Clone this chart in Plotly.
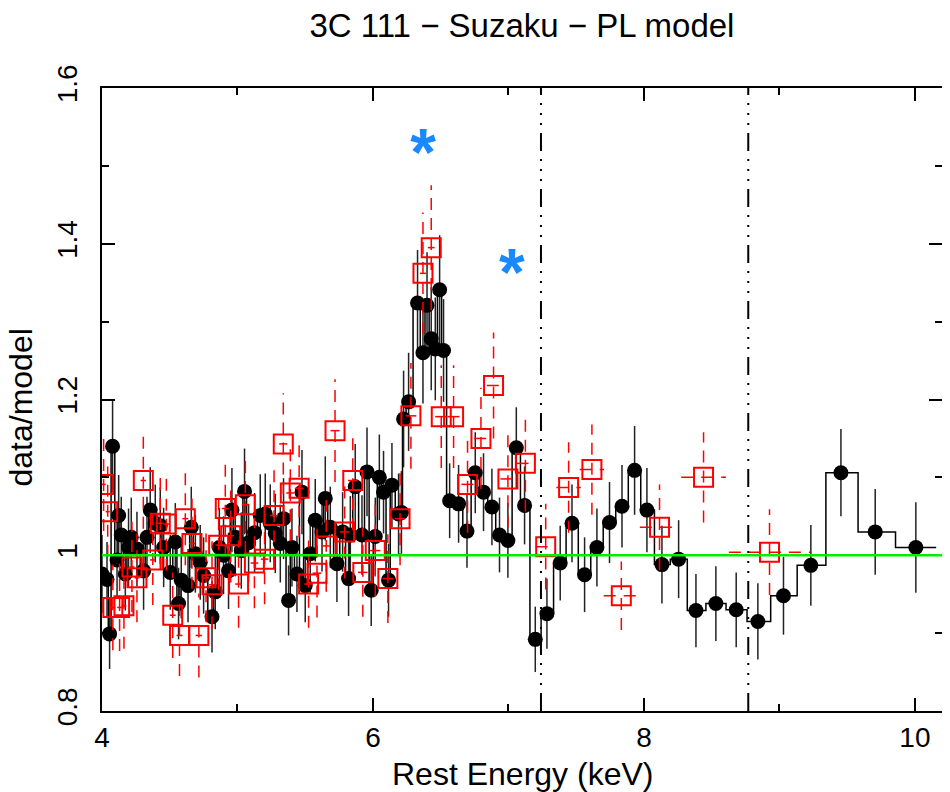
import plotly.graph_objects as go

# XIS (black) ratio points: energy, data/model, 1-sigma error
black_e = [4.000, 4.037, 4.056, 4.078, 4.111, 4.123, 4.142, 4.172, 4.196, 4.216,
           4.258, 4.307, 4.332, 4.356, 4.393, 4.430, 4.455, 4.504, 4.541, 4.565,
           4.585, 4.635, 4.659, 4.689, 4.725, 4.750, 4.812, 4.836, 4.866, 4.897,
           4.934, 4.959, 4.984, 5.028, 5.052, 5.082, 5.126, 5.168, 5.205, 5.242,
           5.279, 5.316, 5.340, 5.377, 5.402, 5.439, 5.476, 5.500, 5.537, 5.574,
           5.624, 5.648, 5.685, 5.734, 5.776, 5.820, 5.833, 5.869, 5.919, 5.956,
           5.987, 6.017, 6.047, 6.078, 6.115, 6.140, 6.189, 6.210, 6.226, 6.263,
           6.329, 6.369, 6.399, 6.430, 6.460, 6.492, 6.521, 6.566, 6.632, 6.694,
           6.755, 6.816, 6.878, 6.934, 6.996, 7.058, 7.119, 7.198, 7.284, 7.382,
           7.469, 7.562, 7.653, 7.746, 7.838, 7.931, 8.022, 8.133, 8.256, 8.384,
           8.531, 8.681, 8.841, 9.030, 9.232, 9.454, 9.707, 10.007]
black_r = [0.976, 0.969, 0.899, 1.140, 0.994, 1.051, 1.026, 0.976, 1.010, 1.023,
           1.008, 0.980, 1.023, 1.058, 1.041, 1.038, 1.010, 0.978, 1.017, 0.938,
           0.968, 0.961, 1.036, 1.002, 0.991, 0.974, 0.921, 0.953, 1.010, 1.000,
           0.980, 1.058, 1.023, 1.006, 1.082, 1.016, 1.029, 1.051, 1.053, 1.041,
           1.028, 1.015, 1.047, 0.942, 1.010, 0.976, 1.081, 0.961, 1.002, 1.045,
           1.030, 1.073, 1.036, 0.989, 1.030, 0.970, 1.026, 1.088, 1.026, 1.107,
           0.955, 1.024, 1.100, 1.081, 0.968, 1.090, 1.053, 1.055, 1.175, 1.197,
           1.324, 1.260, 1.321, 1.278, 1.265, 1.341, 1.263, 1.070, 1.066, 1.031,
           1.106, 1.081, 1.062, 1.026, 1.019, 1.138, 1.064, 0.892, 0.925, 0.990,
           1.041, 0.975, 1.010, 1.042, 1.063, 1.109, 1.058, 0.988, 0.995, 0.929,
           0.938, 0.930, 0.915, 0.948, 0.987, 1.106, 1.030, 1.010]
black_err = [0.050, 0.048, 0.045, 0.058, 0.050, 0.052, 0.049, 0.047, 0.050, 0.051,
             0.048, 0.050, 0.052, 0.055, 0.050, 0.049, 0.051, 0.048, 0.050, 0.046,
             0.049, 0.047, 0.052, 0.050, 0.048, 0.049, 0.046, 0.048, 0.051, 0.050,
             0.049, 0.054, 0.050, 0.049, 0.055, 0.050, 0.051, 0.053, 0.052, 0.050,
             0.051, 0.050, 0.052, 0.045, 0.050, 0.049, 0.054, 0.047, 0.050, 0.053,
             0.051, 0.054, 0.052, 0.049, 0.051, 0.048, 0.050, 0.055, 0.051, 0.057,
             0.046, 0.050, 0.055, 0.053, 0.047, 0.054, 0.052, 0.053, 0.062, 0.063,
             0.068, 0.065, 0.068, 0.066, 0.066, 0.070, 0.066, 0.048, 0.050, 0.047,
             0.052, 0.050, 0.049, 0.048, 0.048, 0.052, 0.050, 0.042, 0.045, 0.048,
             0.050, 0.048, 0.050, 0.052, 0.053, 0.057, 0.054, 0.050, 0.050, 0.047,
             0.048, 0.048, 0.049, 0.050, 0.052, 0.056, 0.055, 0.058]

# second detector (red) ratio points
red_e = [4.012, 4.042, 4.080, 4.130, 4.162, 4.221, 4.258, 4.305, 4.375, 4.430,
         4.475, 4.522, 4.572, 4.615, 4.664, 4.715, 4.768, 4.812, 4.861, 4.910,
         4.950, 5.008, 5.058, 5.125, 5.200, 5.270, 5.338, 5.390, 5.455, 5.525,
         5.587, 5.655, 5.720, 5.791, 5.851, 5.925, 6.017, 6.110, 6.200, 6.280,
         6.369, 6.430, 6.504, 6.595, 6.698, 6.797, 6.890, 6.996, 7.125, 7.275,
         7.444, 7.616, 7.833, 8.115, 8.440, 8.927]
red_r = [1.091, 1.056, 0.933, 0.933, 0.935, 0.985, 0.971, 1.096, 0.994, 1.041,
         1.040, 0.923, 0.897, 1.047, 1.015, 0.897, 0.971, 0.962, 1.013, 1.060,
         1.025, 0.963, 1.065, 0.990, 0.995, 1.051, 1.143, 1.080, 1.086, 0.963,
         0.977, 1.012, 1.160, 1.030, 1.096, 0.978, 1.006, 0.970, 1.047, 1.179,
         1.362, 1.395, 1.178, 1.178, 1.091, 1.150, 1.218, 1.098, 1.118, 1.011,
         1.087, 1.110, 0.948, 1.036, 1.100, 1.004]
red_err = [0.060, 0.058, 0.055, 0.056, 0.055, 0.058, 0.057, 0.062, 0.058, 0.060,
           0.060, 0.055, 0.052, 0.060, 0.058, 0.054, 0.057, 0.056, 0.058, 0.062,
           0.060, 0.056, 0.062, 0.058, 0.058, 0.060, 0.065, 0.062, 0.063, 0.056,
           0.057, 0.059, 0.066, 0.060, 0.064, 0.057, 0.059, 0.057, 0.060, 0.068,
           0.078, 0.080, 0.066, 0.066, 0.062, 0.065, 0.068, 0.062, 0.062, 0.055,
           0.058, 0.058, 0.044, 0.055, 0.058, 0.055]
red_xerr = [0.015, 0.015, 0.018, 0.018, 0.018, 0.018, 0.018, 0.020, 0.020, 0.020,
            0.020, 0.022, 0.022, 0.022, 0.022, 0.024, 0.024, 0.024, 0.024, 0.025,
            0.025, 0.025, 0.026, 0.028, 0.028, 0.030, 0.030, 0.030, 0.032, 0.032,
            0.032, 0.033, 0.033, 0.035, 0.035, 0.035, 0.038, 0.040, 0.040, 0.040,
            0.022, 0.025, 0.045, 0.045, 0.045, 0.050, 0.050, 0.055, 0.065, 0.075,
            0.090, 0.090, 0.130, 0.145, 0.165, 0.300]

# rest-frame line markers and labels
line_energies = [7.24, 8.77]
star_e = [6.37, 7.025]
star_r = [1.510, 1.356]

FONT = "Liberation Sans, Arial, sans-serif"

# step line for the black spectrum (bin edges halfway between centres)
edges = [black_e[0] - (black_e[1] - black_e[0]) / 2]
for i in range(1, len(black_e)):
    edges.append((black_e[i - 1] + black_e[i]) / 2)
edges.append(black_e[-1] + (black_e[-1] - black_e[-2]) / 2)
step_x, step_y = [], []
for i, r in enumerate(black_r):
    step_x += [edges[i], edges[i + 1]]
    step_y += [r, r]

# dashed red error bars
red_vx, red_vy, red_hx, red_hy = [], [], [], []
for e, r, dy, dx in zip(red_e, red_r, red_err, red_xerr):
    red_vx += [e, e, None]
    red_vy += [r - dy, r + dy, None]
    red_hx += [e - dx, e + dx, None]
    red_hy += [r, r, None]

fig = go.Figure()

fig.add_trace(go.Scatter(x=step_x, y=step_y, mode="lines",
                         line=dict(color="black", width=1.5), hoverinfo="skip"))
fig.add_trace(go.Scatter(
    x=black_e, y=black_r, mode="markers",
    marker=dict(color="black", size=15, symbol="circle"),
    error_y=dict(type="data", array=black_err, visible=True,
                 color="#222222", thickness=1.5, width=0),
))
fig.add_trace(go.Scatter(x=red_vx, y=red_vy, mode="lines",
                         line=dict(color="#ff0000", width=1.5, dash="12px,8px"),
                         hoverinfo="skip"))
fig.add_trace(go.Scatter(x=red_hx, y=red_hy, mode="lines",
                         line=dict(color="#ff0000", width=1.5, dash="12px,8px"),
                         hoverinfo="skip"))
fig.add_trace(go.Scatter(
    x=red_e, y=red_r, mode="markers",
    marker=dict(symbol="square-open", size=19, color="#ff0000",
                line=dict(width=2, color="#ff0000")),
))
fig.add_trace(go.Scatter(x=[4, 10.2], y=[1, 1], mode="lines",
                         line=dict(color="#00ee00", width=2.5), hoverinfo="skip"))
fig.add_trace(go.Scatter(x=star_e, y=star_r, mode="text", text=["<b>*</b>", "<b>*</b>"],
                         textposition="middle center",
                         textfont=dict(family=FONT, size=66, color="#1a88ff")))

for e in line_energies:
    fig.add_shape(type="line", x0=e, x1=e, y0=0, y1=1, xref="x", yref="paper",
                  line=dict(color="black", width=2,
                            dash="18px,8px,2px,8px,2px,8px,2px,8px"),
                  layer="above")

axis_common = dict(
    showline=True, linecolor="black", linewidth=2, mirror="allticks",
    ticks="inside", ticklen=13, tickwidth=2, tickcolor="black",
    showgrid=False, zeroline=False, automargin=False, layer="below traces",
    tickfont=dict(family=FONT, size=28, color="black"),
)

title_font = dict(family=FONT, size=32, color="black")

# the page body adds an 8px margin, so the figure is 8px smaller than the window
fig.update_layout(
    width=942, height=784,
    margin=dict(l=94, r=8, t=80, b=81),
    paper_bgcolor="white", plot_bgcolor="white",
    showlegend=False,
    title=dict(text="3C 111 \u2212 Suzaku \u2212 PL model", x=0.5456, xanchor="center",
               y=0.978, yanchor="middle",
               font=dict(family=FONT, size=33, color="black")),
    xaxis=dict(range=[4, 10.2], dtick=2, tick0=0,
               minor=dict(dtick=1, ticklen=7, tickwidth=2, ticks="inside", tickcolor="black"),
               **axis_common),
    yaxis=dict(range=[0.8, 1.6], dtick=0.2, tick0=0, tickangle=-90,
               ticklabelstandoff=12,
               minor=dict(dtick=0.1, ticklen=7, tickwidth=2, ticks="inside", tickcolor="black"),
               **axis_common),
    annotations=[
        dict(text="Rest Energy (keV)", xref="paper", yref="paper", x=0.5, y=-0.101,
             xanchor="center", yanchor="middle", showarrow=False, font=title_font),
        dict(text="data/model", xref="paper", yref="paper", x=-0.0965, y=0.487,
             xanchor="center", yanchor="middle", textangle=-90, showarrow=False,
             font=title_font),
    ],
)

fig.write_html("out.html")
